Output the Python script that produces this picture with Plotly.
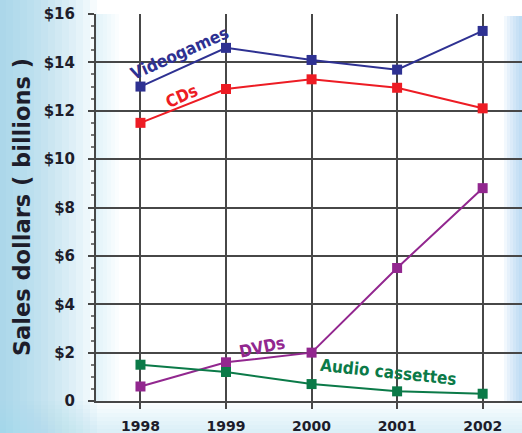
import plotly.graph_objects as go

years = [1998, 1999, 2000, 2001, 2002]
series_names = ["Videogames", "CDs", "DVDs", "Audio cassettes"]
videogames = [13.0, 14.6, 14.1, 13.7, 15.3]
cds = [11.5, 12.9, 13.3, 12.95, 12.1]
dvds = [0.6, 1.6, 2.0, 5.5, 8.8]
audio_cassettes = [1.5, 1.2, 0.7, 0.4, 0.3]
y_tickvals = [0, 2, 4, 6, 8, 10, 12, 14, 16]
y_ticktext = ["0", "$2", "$4", "$6", "$8", "$10", "$12", "$14", "$16"]
y_title = "Sales dollars ( billions )"

colors = ["#2e3192", "#ed1c24", "#92278f", "#0b7a48"]
values = [videogames, cds, dvds, audio_cassettes]

W, H = 522, 433
ML, MR, MT, MB = 96, 0, 14, 32
PW, PH = W - ML - MR, H - MT - MB


def px_x(px):
    return (px - ML) / PW


def px_y(py):
    return (H - MB - py) / PH


fig = go.Figure()
for name, vals, col in zip(series_names, values, colors):
    fig.add_trace(go.Scatter(
        x=years, y=vals, name=name, mode="lines+markers",
        line=dict(color=col, width=2),
        marker=dict(symbol="square", size=10, color=col),
        showlegend=False, cliponaxis=False,
    ))

shapes = []
# left blue gradient
n = 14
for k in range(n):
    w = 6 + k * 7
    shapes.append(dict(type="rect", xref="paper", yref="paper", layer="below",
                       x0=px_x(0), x1=px_x(w), y0=px_y(H), y1=px_y(0),
                       fillcolor="#86c4ea", opacity=0.075, line=dict(width=0)))
# bottom band
for k in range(8):
    hgt = 4 + k * 4
    shapes.append(dict(type="rect", xref="paper", yref="paper", layer="below",
                       x0=px_x(0), x1=px_x(W), y0=px_y(H), y1=px_y(H - hgt),
                       fillcolor="#9fd2f0", opacity=0.055, line=dict(width=0)))
# right band
for k in range(6):
    w = 3 + k * 3
    shapes.append(dict(type="rect", xref="paper", yref="paper", layer="below",
                       x0=px_x(W - w), x1=px_x(W), y0=px_y(H - MB), y1=px_y(MT + 2),
                       fillcolor="#7dbde8", opacity=0.1, line=dict(width=0)))
# inner left glow of plot area
for k in range(6):
    w = 3 + k * 4
    shapes.append(dict(type="rect", xref="paper", yref="paper", layer="below",
                       x0=px_x(ML), x1=px_x(ML + w), y0=px_y(H - MB), y1=px_y(MT),
                       fillcolor="#a9d8f3", opacity=0.06, line=dict(width=0)))

label_pos = [
    (1998.46, 14.38, -24),
    (1998.48, 12.62, -24),
    (1999.42, 2.22, -12),
    (2000.90, 1.20, 6),
]
annotations = []
for name, col, (ax, ay, ang) in zip(series_names, colors, label_pos):
    annotations.append(dict(
        x=ax, y=ay, xref="x", yref="y", text=name, showarrow=False,
        textangle=ang,
        font=dict(family="DejaVu Sans Condensed, Liberation Sans Narrow, sans-serif",
                  size=17, color=col, weight="bold"),
    ))
annotations.append(dict(
    x=px_x(22), y=0.501, xref="paper", yref="paper", text=y_title,
    showarrow=False, textangle=-90, xanchor="center", yanchor="middle",
    font=dict(family="DejaVu Sans", size=22.5, color="#1d1d2b", weight="bold"),
))

fig.update_layout(
    width=W, height=H,
    margin=dict(l=ML, r=MR, t=MT, b=MB, pad=0, autoexpand=False),
    paper_bgcolor="white", plot_bgcolor="rgba(0,0,0,0)",
    shapes=shapes, annotations=annotations,
    font=dict(family="DejaVu Sans", size=14, color="#222222"),
)
fig.update_xaxes(
    range=[1997.48, 2002.46], tickvals=years, ticktext=[str(y) for y in years],
    showgrid=True, gridcolor="#474747", gridwidth=1.5,
    showline=True, linecolor="#474747", linewidth=2,
    ticks="outside", ticklen=6, tickcolor="#474747", tickwidth=1.5,
    tickfont=dict(family="DejaVu Sans", size=14, color="#1d1d2b", weight="bold"),
    ticklabelstandoff=5, zeroline=False, automargin=False,
)
fig.update_yaxes(
    range=[0, 16], tickvals=y_tickvals, ticktext=y_ticktext,
    showgrid=True, gridcolor="#474747", gridwidth=1.5,
    showline=True, linecolor="#474747", linewidth=2,
    ticks="outside", ticklen=6, tickcolor="#474747", tickwidth=1.5,
    minor=dict(dtick=0.5, ticks="outside", ticklen=3, tickcolor="#777777", showgrid=False),
    tickfont=dict(family="DejaVu Sans", size=15, color="#1d1d2b", weight="bold"),
    ticklabelstandoff=10, zeroline=False, automargin=False,
)
fig.write_html(
    "out.html",
    config={"displayModeBar": False},
    post_script="document.body.style.margin='0';document.body.style.overflow='hidden';",
)
